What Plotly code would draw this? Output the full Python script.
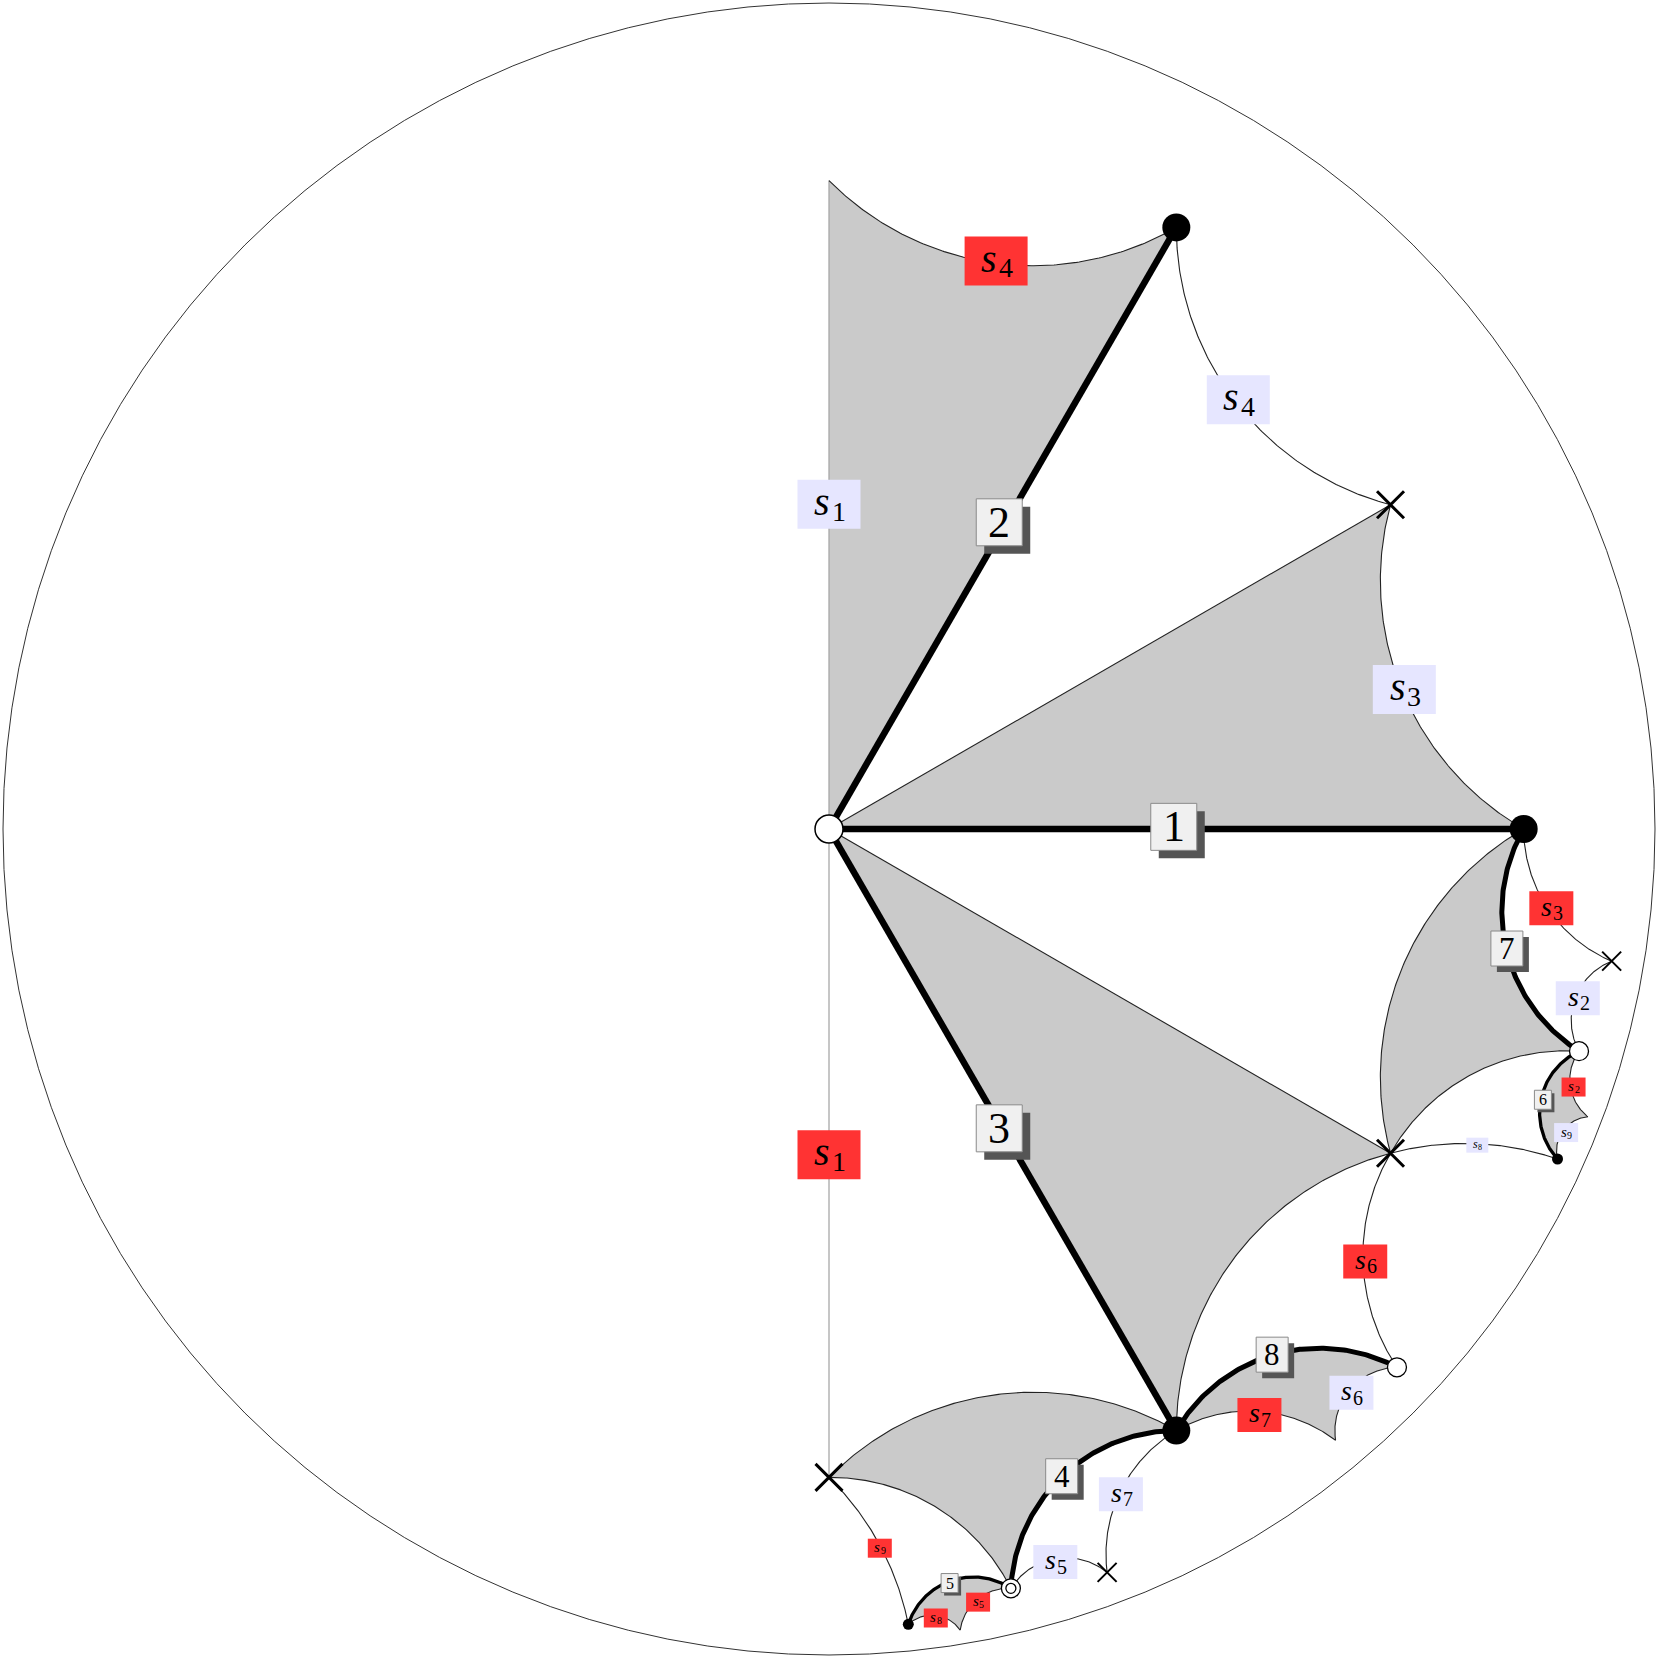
import numpy as np
import plotly.graph_objects as go

# vertices in unit-disk coordinates
names = ["O", "A", "B", "C", "T", "X1", "X2", "X3", "W1", "Y1",
         "K1", "P1", "W2", "P2", "Y2", "D", "K2", "P3"]
xs = [0.0, 0.841, 0.4205, 0.4205, 0.0, 0.6798, 0.6798, 0.0, 0.908, 0.9475,
      0.882, 0.9187, 0.6876, 0.6133, 0.3367, 0.2202, 0.096, 0.1588]
ys = [0.0, 0.0, 0.7283, -0.7283, 0.785, 0.3925, -0.3925, -0.785, -0.269, -0.160,
      -0.3995, -0.3484, -0.6517, -0.740, -0.900, -0.9193, -0.9629, -0.970]
pts = {n: (x, y) for n, x, y in zip(names, xs, ys)}

# shaded polygons (their sides are geodesics)
shaded = [["O", "T", "B"], ["O", "X1", "A"], ["O", "X2", "C"], ["A", "X2", "W1"],
          ["W1", "P1", "K1"], ["C", "W2", "P2"], ["C", "X3", "D"], ["D", "P3", "K2"]]

thin_edges = [("T", "B"), ("B", "X1"), ("O", "X1"), ("X1", "A"), ("O", "X2"), ("X2", "C"),
              ("A", "X2"), ("X2", "W1"), ("A", "Y1"), ("Y1", "W1"), ("W1", "P1"), ("P1", "K1"),
              ("X2", "K1"), ("W2", "P2"), ("P2", "C"), ("X2", "W2"), ("C", "X3"), ("X3", "D"),
              ("C", "Y2"), ("Y2", "D"), ("D", "P3"), ("P3", "K2"), ("X3", "K2")]
gray_edges = [("O", "T"), ("O", "X3")]
thick_edges = [("O", "A"), ("O", "B"), ("O", "C"), ("C", "D"), ("D", "K2"),
               ("W1", "K1"), ("A", "W1"), ("C", "W2")]
thick_level = [1, 1, 1, 2, 3, 3, 2, 2]

# side labels
side_text = ["4", "1", "3", "6", "7", "2", "9", "8", "5",
             "1", "4", "3", "2", "6", "7", "5", "9", "8"]
side_red = [True] * 9 + [False] * 9
side_level = [1, 1, 2, 2, 2, 3, 3, 3, 3,
              1, 1, 1, 2, 2, 2, 2, 3, 4]
side_x = [0.2023, 0.0, 0.8745, 0.6492, 0.5211, 0.9014, 0.0615, 0.1293, 0.1805,
          0.0, 0.4955, 0.6965, 0.9065, 0.6325, 0.3534, 0.2740, 0.8924, 0.7849]
side_y = [0.6876, -0.3944, -0.0960, -0.5237, -0.7093, -0.3124, -0.8707, -0.9552, -0.9360,
          0.3931, 0.5198, 0.1690, -0.2049, -0.6825, -0.8054, -0.8873, -0.3675, -0.3828]

# numbered edge labels
num_text = ["1", "2", "3", "4", "5", "6", "7", "8"]
num_x = [0.4174, 0.2061, 0.2061, 0.2817, 0.1460, 0.8643, 0.8207, 0.5365]
num_y = [0.0026, 0.3713, -0.3624, -0.7836, -0.9129, -0.3278, -0.1447, -0.6364]
num_level = [1, 1, 1, 2, 3, 3, 2, 2]

PX = 826.0  # pixels per unit of the disk


def geodesic(p, q, n=150):
    p = np.array(p, dtype=float)
    q = np.array(q, dtype=float)
    det = p[0] * q[1] - p[1] * q[0]
    if abs(det) < 1e-9:
        t = np.linspace(0, 1, n)
        return p[0] + (q[0] - p[0]) * t, p[1] + (q[1] - p[1]) * t
    M = np.array([p, q])
    b = (np.array([p @ p, q @ q]) + 1) / 2
    c = np.linalg.solve(M, b)
    r = np.sqrt(c @ c - 1)
    a1 = np.arctan2(p[1] - c[1], p[0] - c[0])
    a2 = np.arctan2(q[1] - c[1], q[0] - c[0])
    d = (a2 - a1 + np.pi) % (2 * np.pi) - np.pi
    t = a1 + d * np.linspace(0, 1, n)
    return c[0] + r * np.cos(t), c[1] + r * np.sin(t)


def box(x, y, w, h, fill, border=None, dx=0, dy=0):
    # rectangle of w x h pixels centred on (x, y), shifted by dx, dy pixels
    cx, cy = x + dx / PX, y - dy / PX
    fig.add_shape(type="rect", xref="x", yref="y", layer="above",
                  x0=cx - w / 2 / PX, x1=cx + w / 2 / PX, y0=cy - h / 2 / PX, y1=cy + h / 2 / PX,
                  fillcolor=fill, line=dict(color=border or fill, width=1 if border else 0))


fig = go.Figure()

for poly in shaded:
    px, py = [], []
    for i in range(len(poly)):
        gx, gy = geodesic(pts[poly[i]], pts[poly[(i + 1) % len(poly)]])
        px += list(gx)
        py += list(gy)
    fig.add_trace(go.Scatter(x=px, y=py, mode="lines", fill="toself",
                             fillcolor="#CACACA", line=dict(width=0), hoverinfo="skip"))

for a, b in gray_edges:
    gx, gy = geodesic(pts[a], pts[b])
    fig.add_trace(go.Scatter(x=gx, y=gy, mode="lines", line=dict(color="#A8A8A8", width=1.3)))

for a, b in thin_edges:
    gx, gy = geodesic(pts[a], pts[b])
    fig.add_trace(go.Scatter(x=gx, y=gy, mode="lines", line=dict(color="#222222", width=1.1)))

thick_w = {1: 6.5, 2: 5, 3: 3.3}
for (a, b), lv in zip(thick_edges, thick_level):
    gx, gy = geodesic(pts[a], pts[b])
    fig.add_trace(go.Scatter(x=gx, y=gy, mode="lines", line=dict(color="black", width=thick_w[lv])))


def add_marker(keys, **marker):
    fig.add_trace(go.Scatter(x=[pts[k][0] for k in keys], y=[pts[k][1] for k in keys],
                             mode="markers", marker=marker))


add_marker(["X1", "X2", "X3"], symbol="x-thin", size=27, line=dict(color="black", width=3))
add_marker(["Y1", "Y2"], symbol="x-thin", size=19, line=dict(color="black", width=2))
add_marker(["O"], symbol="circle", size=28, color="white", line=dict(color="black", width=1.5))
add_marker(["A", "B", "C"], symbol="circle", size=28, color="black", line=dict(width=0))
add_marker(["W1", "W2"], symbol="circle", size=19, color="white", line=dict(color="black", width=1.3))
add_marker(["D"], symbol="circle", size=19, color="white", line=dict(color="black", width=1.3))
add_marker(["D"], symbol="circle-open", size=10, color="black", line=dict(color="black", width=1.3))
add_marker(["K1", "K2"], symbol="circle", size=11, color="black", line=dict(width=0))

font = "Liberation Serif"
side_box = {1: (63, 49, 40), 2: (44, 34, 28), 3: (24, 19, 15), 4: (22, 15, 12)}
for t, red, lv, x, y in zip(side_text, side_red, side_level, side_x, side_y):
    w, h, fs = side_box[lv]
    box(x, y, w, h, "#FF3333" if red else "#E6E6FF")
    # italic s with a smaller upright subscript
    fig.add_annotation(x=x, y=y, xref="x", yref="y", showarrow=False, text="s",
                       xshift=-0.17 * fs, yshift=0.07 * fs,
                       font=dict(family=font, size=fs, color="black", style="italic"))
    fig.add_annotation(x=x, y=y, xref="x", yref="y", showarrow=False, text=t,
                       xshift=0.25 * fs, yshift=-0.17 * fs,
                       font=dict(family=font, size=round(0.7 * fs), color="black"))

num_box = {1: (46, 47, 44, 8), 2: (32, 35, 31, 6), 3: (17, 19, 16, 3)}
for t, lv, x, y in zip(num_text, num_level, num_x, num_y):
    w, h, fs, off = num_box[lv]
    box(x, y, w, h, "#555555", dx=off, dy=off)
    box(x, y, w, h, "#F0F0F0", border="#8A8A8A")
    fig.add_annotation(x=x, y=y, xref="x", yref="y", showarrow=False, text=t,
                       font=dict(family=font, size=fs, color="black"))

fig.add_shape(type="circle", xref="x", yref="y", x0=-1, y0=-1, x1=1, y1=1,
              line=dict(color="#333333", width=1))

lim = 829 / PX
fig.update_layout(width=1658, height=1658, margin=dict(l=0, r=0, t=0, b=0),
                  paper_bgcolor="white", plot_bgcolor="white", showlegend=False,
                  xaxis=dict(range=[-lim, lim], visible=False),
                  yaxis=dict(range=[-lim, lim], visible=False, scaleanchor="x"))
fig.write_html("out.html", config={"displayModeBar": False},
               post_script="document.body.style.margin='0';")
